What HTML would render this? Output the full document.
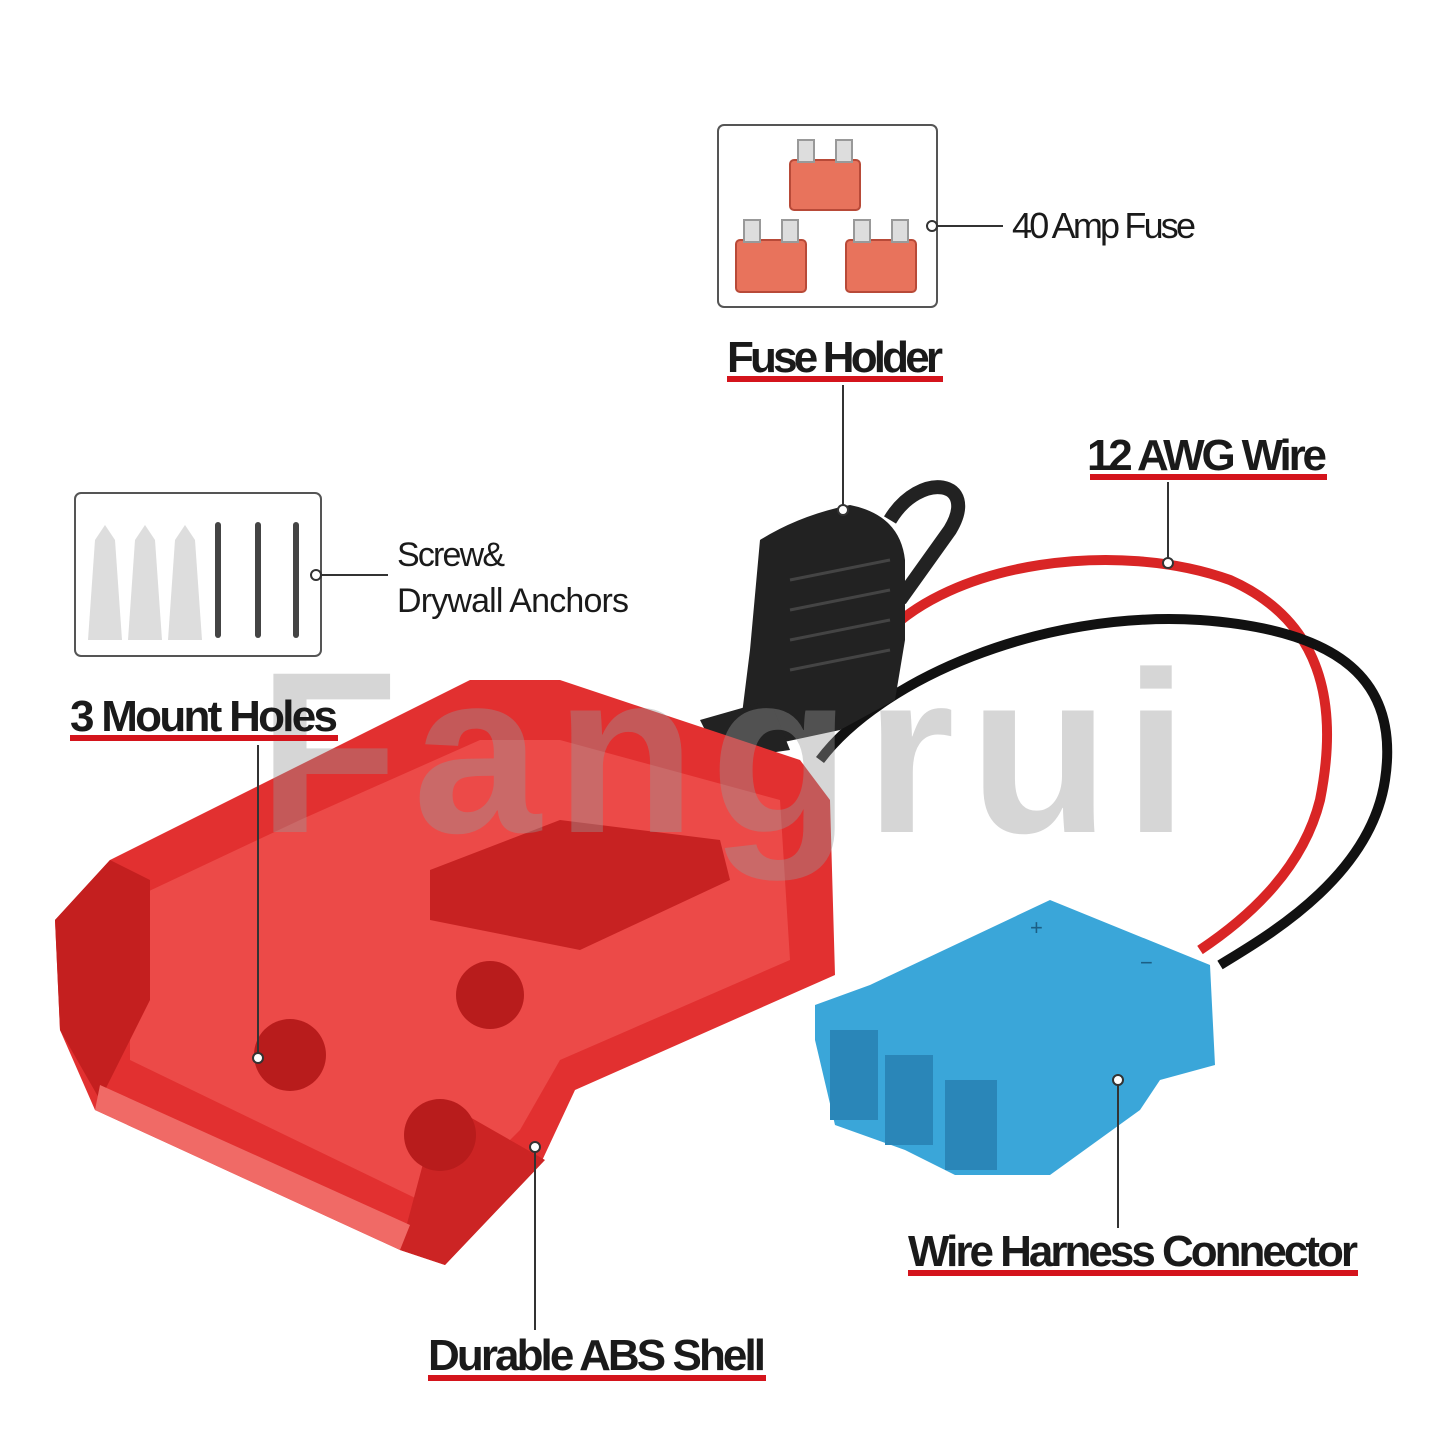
<!DOCTYPE html>
<html><head><meta charset="utf-8"><style>
html,body{margin:0;padding:0;background:#fff;}
svg{display:block;}
.lb{font-family:"Liberation Sans Narrow","Liberation Sans",sans-serif;font-weight:bold;fill:#1a1a1a;}
</style></head><body>
<svg width="1440" height="1440" viewBox="0 0 1440 1440" xmlns="http://www.w3.org/2000/svg">
<rect width="1440" height="1440" fill="#fff"/>
<!-- fuse box -->
<rect x="718" y="125" width="219" height="182" rx="6" fill="#fff" stroke="#555" stroke-width="2"/>
<g fill="#e8735c" stroke="#b84a38" stroke-width="2">
<rect x="790" y="160" width="70" height="50" rx="4"/><rect x="798" y="140" width="16" height="22" fill="#ddd" stroke="#999"/><rect x="836" y="140" width="16" height="22" fill="#ddd" stroke="#999"/>
<rect x="736" y="240" width="70" height="52" rx="4"/><rect x="744" y="220" width="16" height="22" fill="#ddd" stroke="#999"/><rect x="782" y="220" width="16" height="22" fill="#ddd" stroke="#999"/>
<rect x="846" y="240" width="70" height="52" rx="4"/><rect x="854" y="220" width="16" height="22" fill="#ddd" stroke="#999"/><rect x="892" y="220" width="16" height="22" fill="#ddd" stroke="#999"/>
</g>
<!-- screw box -->
<rect x="75" y="493" width="246" height="163" rx="6" fill="#fff" stroke="#555" stroke-width="2"/>
<g fill="#ddd">
<path d="M88 640 L95 540 L105 525 L115 540 L122 640Z"/>
<path d="M128 640 L135 540 L145 525 L155 540 L162 640Z"/>
<path d="M168 640 L175 540 L185 525 L195 540 L202 640Z"/>
</g>
<g stroke="#444" stroke-width="6" stroke-linecap="round">
<line x1="218" y1="525" x2="218" y2="635"/><line x1="258" y1="525" x2="258" y2="635"/><line x1="296" y1="525" x2="296" y2="635"/>
</g>
<!-- wires -->
<path d="M880 640 C950 560 1120 540 1230 580 C1320 620 1340 700 1320 800 C1300 880 1230 930 1200 950" fill="none" stroke="#d92525" stroke-width="10"/>
<path d="M820 760 C880 680 1040 610 1200 620 C1340 630 1400 680 1385 780 C1370 880 1260 940 1220 965" fill="none" stroke="#111" stroke-width="10"/>
<!-- fuse holder -->
<path d="M890 520 C920 470 980 480 950 530 L900 600" fill="none" stroke="#222" stroke-width="14"/>
<path d="M760 540 Q800 515 850 505 Q900 515 905 560 L905 640 L895 700 L840 730 L770 745 L740 730 L750 650Z" fill="#222"/>
<g stroke="#444" stroke-width="3"><line x1="790" y1="580" x2="890" y2="560"/><line x1="790" y1="610" x2="890" y2="590"/><line x1="790" y1="640" x2="890" y2="620"/><line x1="790" y1="670" x2="890" y2="650"/></g>
<path d="M700 720 L770 700 L790 750 L720 760Z" fill="#222"/>
<!-- shell -->
<path d="M55 920 L110 860 L290 770 L470 680 L560 680 L800 760 L830 800 L835 975 L575 1090 L540 1165 L445 1265 L400 1250 L95 1110 L60 1030Z" fill="#e23030"/>
<path d="M130 900 L300 820 L480 740 L560 740 L780 800 L790 960 L560 1060 L520 1130 L440 1210 L130 1060Z" fill="#ec4a48"/>
<path d="M430 870 L560 820 L720 840 L730 880 L580 950 L430 920Z" fill="#c72222"/>
<path d="M55 920 L110 860 L150 880 L150 1000 L100 1100 L60 1030Z" fill="#c41f1f"/>
<path d="M440 1100 L545 1160 L445 1265 L400 1250Z" fill="#cc2424"/>
<path d="M95 1110 L400 1250 L410 1225 L100 1085Z" fill="#f06a66"/>
<circle cx="290" cy="1055" r="36" fill="#b81c1c"/><circle cx="490" cy="995" r="34" fill="#b81c1c"/><circle cx="440" cy="1135" r="36" fill="#b81c1c"/>
<!-- blue connector -->
<path d="M815 1005 L870 985 L1050 900 L1210 965 L1215 1065 L1160 1080 L1140 1110 L1050 1175 L955 1175 L905 1150 L835 1125 L815 1040Z" fill="#3aa6d9"/>
<rect x="830" y="1030" width="48" height="90" fill="#2a86b8"/><rect x="885" y="1055" width="48" height="90" fill="#2a86b8"/><rect x="945" y="1080" width="52" height="90" fill="#2a86b8"/>
<text x="1030" y="935" font-size="22" fill="#1c5f85" font-family="Liberation Sans,sans-serif">+</text>
<text x="1140" y="970" font-size="22" fill="#1c5f85" font-family="Liberation Sans,sans-serif">−</text>
<!-- watermark -->
<text x="258" y="832" font-family="Liberation Sans,sans-serif" font-weight="bold" font-size="230" fill="#999" fill-opacity="0.4" textLength="930">Fangrui</text>
<!-- leader lines -->
<g stroke="#333" stroke-width="2" fill="#fff">
<line x1="843" y1="385" x2="843" y2="508"/><circle cx="843" cy="510" r="5"/>
<line x1="1168" y1="482" x2="1168" y2="560"/><circle cx="1168" cy="563" r="5"/>
<line x1="258" y1="745" x2="258" y2="1055"/><circle cx="258" cy="1058" r="5"/>
<line x1="535" y1="1150" x2="535" y2="1330"/><circle cx="535" cy="1147" r="5"/>
<line x1="1118" y1="1083" x2="1118" y2="1228"/><circle cx="1118" cy="1080" r="5"/>
<line x1="937" y1="226" x2="1003" y2="226"/><circle cx="932" cy="226" r="5"/>
<line x1="321" y1="575" x2="388" y2="575"/><circle cx="316" cy="575" r="5"/>
</g>
<!-- labels -->
<g fill="#d4141c">
<rect x="727" y="376" width="216" height="6"/>
<rect x="1090" y="474" width="237" height="6"/>
<rect x="70" y="735" width="268" height="6"/>
<rect x="908" y="1270" width="450" height="6"/>
<rect x="428" y="1375" width="338" height="6"/>
</g>
<text class="lb" x="727" y="372" font-size="44" textLength="216">Fuse Holder</text>
<text class="lb" x="1087" y="470" font-size="44" textLength="240">12 AWG Wire</text>
<text class="lb" x="70" y="731" font-size="44" textLength="268">3 Mount Holes</text>
<text class="lb" x="908" y="1266" font-size="44" textLength="450">Wire Harness Connector</text>
<text class="lb" x="428" y="1370" font-size="44" textLength="338">Durable ABS Shell</text>
<text class="lb" x="1012" y="238" font-size="36" textLength="184" style="font-weight:normal">40 Amp Fuse</text>
<text class="lb" x="397" y="566" font-size="34" textLength="108" style="font-weight:normal">Screw&amp;</text>
<text class="lb" x="397" y="612" font-size="34" textLength="232" style="font-weight:normal">Drywall Anchors</text>
</svg>
</body></html>
